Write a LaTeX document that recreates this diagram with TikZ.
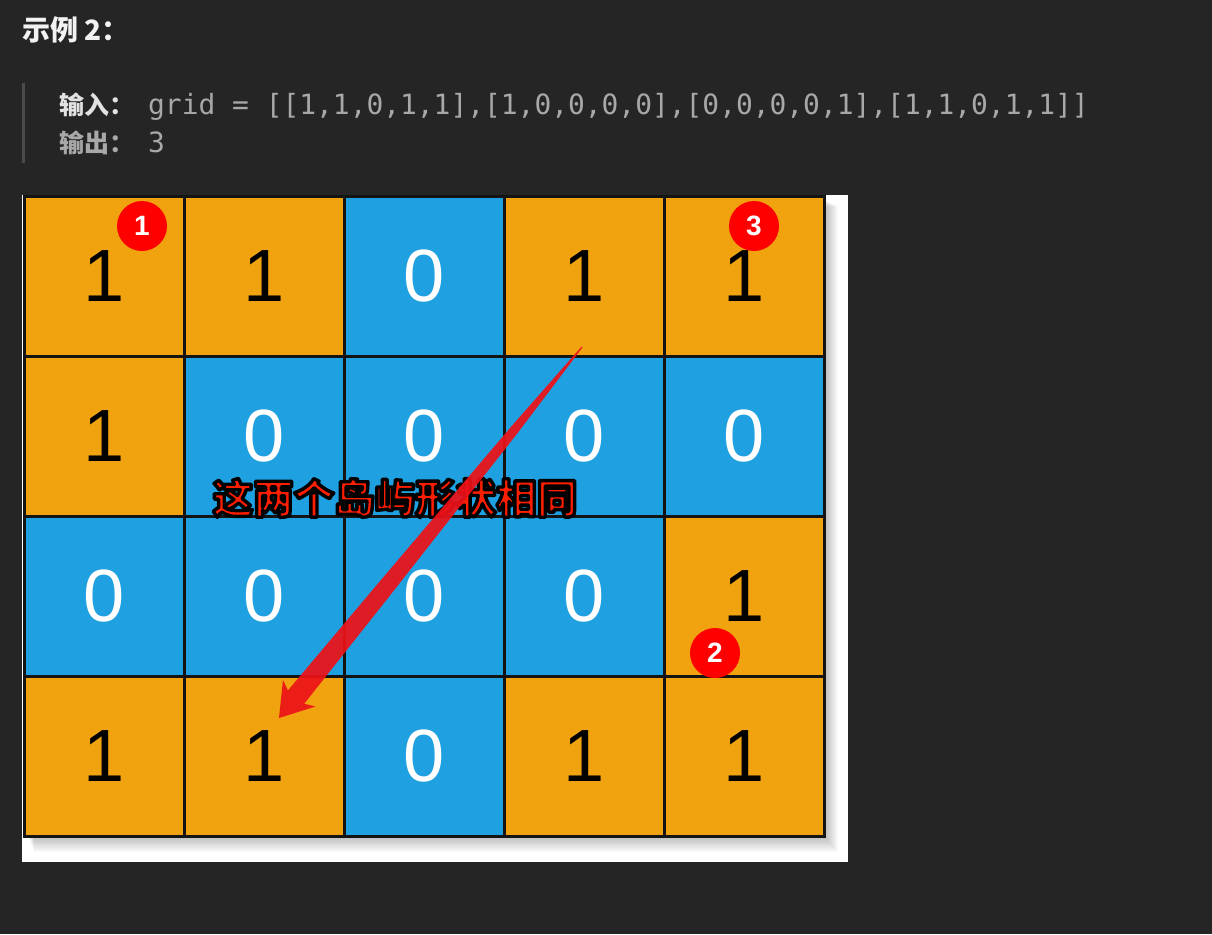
\documentclass[tikz,border=0pt]{standalone}
\usepackage{fontspec}
\setmainfont{Liberation Sans}
\setmonofont{DejaVu Sans Mono}
\newfontfamily\cjk{Noto Sans CJK SC}
\usetikzlibrary{calc}
\definecolor{bg}{HTML}{252525}
\definecolor{titlecol}{HTML}{F2F2F2}
\definecolor{incol}{HTML}{E2E2E2}
\definecolor{codecol}{HTML}{A8A8A8}
\definecolor{barcol}{HTML}{4B4B4B}
\definecolor{landcol}{HTML}{F0A30F}
\definecolor{watercol}{HTML}{1FA0E0}
\definecolor{gridline}{HTML}{141414}
\definecolor{badgecol}{HTML}{FF0000}
\definecolor{notecol}{HTML}{FF1E00}
\definecolor{arrowcol}{HTML}{EC1218}
\newcommand{\outlinedtext}[1]{\special{pdf:literal direct 0 0 0 RG 3.4 w 1 j 2 Tr}#1\special{pdf:literal direct 0 Tr}}
\begin{document}
\begin{tikzpicture}[x=1pt,y=-1pt,
  cellbase/.style={draw=gridline, line width=3pt, minimum width=160pt, minimum height=160pt, inner sep=0pt, font={\fontsize{74}{74}\selectfont}},
  cell1/.style={cellbase, fill=landcol, text=black},
  cell0/.style={cellbase, fill=watercol, text=white},
  badge/.style={circle, fill=badgecol, minimum size=50pt, inner sep=0pt, text=white, font={\bfseries\fontsize{28}{28}\selectfont}},
  heading/.style={anchor=base west, inner sep=0pt, text=titlecol, font={\cjk\bfseries\fontsize{28}{28}\selectfont}},
  label/.style={anchor=base west, inner sep=0pt, font={\cjk\bfseries\fontsize{25}{25}\selectfont}},
  code/.style={anchor=base west, inner sep=0pt, text=codecol, font={\ttfamily\fontsize{27.9}{28}\selectfont}},
  note/.style={inner sep=0pt, text=notecol, font={\cjk\bfseries\fontsize{40.5}{41}\selectfont}}
]
\useasboundingbox (0,0) rectangle (1212,934);
\fill[bg] (0,0) rectangle (1212,934);

% heading
\node[heading] (title) at (22,41) {示例 2：};

% quote block
\fill[barcol] (22,83) rectangle (25,163);
\node[label, text=incol] (inlab) at (59,114) {输入：};
\node[code] (incode) at (148,114) {grid = [[1,1,0,1,1],[1,0,0,0,0],[0,0,0,0,1],[1,1,0,1,1]]};
\node[label, text=codecol] (outlab) at (59,152) {输出：};
\node[code] (outcode) at (148,152) {3};

% image area with soft shadow
\fill[white] (22,195) rectangle (848,862);
\foreach \k in {1,2,...,12}
  \fill[black, opacity=0.018] (28+\k/2,200+\k/2) rectangle (826+\k,838+\k*1.2);

% grid
\foreach \rowvals [count=\r from 0] in {{1,1,0,1,1},{1,0,0,0,0},{0,0,0,0,1},{1,1,0,1,1}} {
  \foreach \v [count=\c from 0] in \rowvals {
    \node[cell\v] (cell-\r-\c) at (104+160*\c, 276+160*\r) {\v};
  }
}

% badges
\node[badge] (b1) at (142,226) {1};
\node[badge] (b3) at (754,226) {3};
\node[badge] (b2) at (715,653) {2};

% note text
\node[note] (note) at (395,498) {\outlinedtext{这两个岛屿形状相同}};

% arrow
\coordinate (aS) at (582,347);
\coordinate (aT) at (279,718);
\coordinate (m1) at ($(aT)!372pt!(aS)$);
\coordinate (m2) at ($(aT)!161pt!(aS)$);
\coordinate (aN) at ($(aT)!27pt!(aS)$);
\coordinate (aW) at ($(aT)!32pt!(aS)$);
\fill[arrowcol, opacity=0.93]
  (aT) -- ($(aW)!21pt!90:(aS)$) -- ($(aN)!10.5pt!90:(aS)$)
  -- ($(m2)!8.5pt!90:(aS)$) -- ($(m1)!4.5pt!90:(aS)$) -- ($(aS)!0.6pt!-90:(aT)$)
  -- ($(aS)!0.6pt!90:(aT)$) -- ($(m1)!4.5pt!-90:(aS)$) -- ($(m2)!8.5pt!-90:(aS)$)
  -- ($(aN)!10.5pt!-90:(aS)$) -- ($(aW)!21pt!-90:(aS)$) -- cycle;
\end{tikzpicture}
\end{document}
